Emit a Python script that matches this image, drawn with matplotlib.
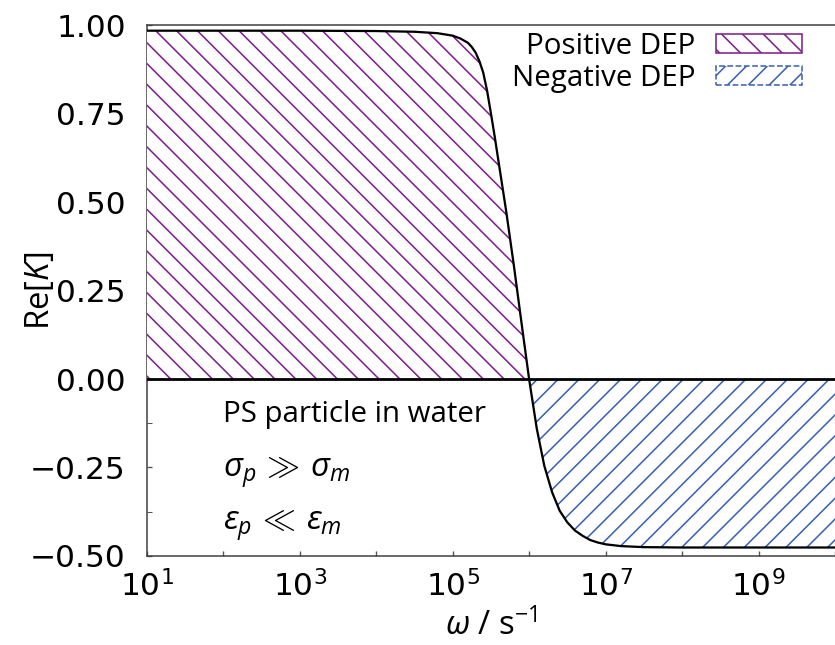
import matplotlib
matplotlib.use('Agg')
import matplotlib.pyplot as plt
from matplotlib.patches import Patch
import numpy as np

# Re[K]
omega = [1e1, 1e2, 1e3, 1e4, 3.16e4, 6.3e4, 1e5, 1.26e5, 1.58e5, 1.78e5, 2e5, 2.24e5,
         2.51e5, 2.82e5, 3.16e5, 3.55e5, 3.98e5, 5.01e5, 6.31e5, 7.94e5, 1e6, 1.26e6,
         1.58e6, 2e6, 2.51e6, 3.16e6, 3.98e6, 5.01e6, 6.31e6, 7.94e6, 1e7, 1.58e7, 3.16e7,
         1e8, 1e9, 1e10]
re_k = [0.984, 0.984, 0.984, 0.983, 0.981, 0.977, 0.970, 0.962, 0.950, 0.938, 0.922, 0.898,
        0.866, 0.815, 0.752, 0.685, 0.615, 0.475, 0.322, 0.160, 0.0, -0.140,
        -0.245, -0.320, -0.372, -0.405, -0.428, -0.443, -0.455, -0.462, -0.467, -0.472, -0.475,
        -0.476, -0.476, -0.476]

xticks = [1e1, 1e2, 1e3, 1e4, 1e5, 1e6, 1e7, 1e8, 1e9, 1e10]
xtick_labels = [r'$10^{1}$', '', r'$10^{3}$', '', r'$10^{5}$', '', r'$10^{7}$', '', r'$10^{9}$', '']
yticks = [-0.5, -0.25, 0.0, 0.25, 0.5, 0.75, 1.0]
ytick_labels = ['\u22120.50', '\u22120.25', '0.00', '0.25', '0.50', '0.75', '1.00']
yminor = [-0.375, -0.125, 0.125, 0.375, 0.625, 0.875]

purple = '#7e1f8e'
blue = '#3a62b2'

plt.rcParams['hatch.linewidth'] = 0.9
plt.rcParams['mathtext.fontset'] = 'custom'
plt.rcParams['mathtext.rm'] = 'Open Sans'
plt.rcParams['mathtext.it'] = 'Open Sans:italic'
plt.rcParams['mathtext.bf'] = 'Open Sans:bold'

fig = plt.figure(figsize=(6.68, 5.16), dpi=125)
ax = fig.add_axes([0.1757, 0.138, 0.8243, 0.8232])

x = np.array(omega)
y = np.array(re_k)
ax.fill_between(x, y, 0, where=y >= 0, interpolate=True, facecolor='white',
                edgecolor=purple, hatch='\\\\', linewidth=0, zorder=3)
ax.fill_between(x, y, 0, where=y <= 0, interpolate=True, facecolor='none',
                edgecolor=blue, hatch='//', linewidth=0, zorder=3)
ax.axhline(0, color='black', lw=1.6, zorder=4)
ax.plot(x, y, color='black', lw=1.3, zorder=5)

ax.set_xscale('log')
ax.set_xlim(1e1, 1e10)
ax.set_ylim(-0.5, 1.0)
ax.set_xticks(xticks)
ax.set_xticklabels(xtick_labels, math_fontfamily='dejavusans')
ax.xaxis.set_minor_locator(matplotlib.ticker.NullLocator())
ax.set_yticks(yticks)
ax.set_yticklabels(ytick_labels)
ax.set_yticks(yminor, minor=True)
ax.tick_params(axis='both', which='both', direction='in', length=3, color='#555555', labelsize=18)
ax.tick_params(axis='y', pad=12)
ax.tick_params(axis='x', pad=8)

for s in ['left', 'bottom', 'top']:
    ax.spines[s].set_color('#444444')
    ax.spines[s].set_linewidth(0.9)
ax.spines['right'].set_visible(False)

ax.set_xlabel(r'$\omega$ / s$^{-1}$', fontsize=19, family='Open Sans')
ax.xaxis.set_label_coords(0.5, -0.1)
ax.set_ylabel(r'Re$[K]$', fontsize=19, family='Open Sans')
ax.yaxis.set_label_coords(-0.13, 0.5)

fs = 17
fig.text(223/835, 1 - 422/645, 'PS particle in water', fontsize=fs, family='Open Sans', va='baseline')
fig.text(223/835, 1 - 477/645, r'$\sigma_p \,\gg\, \sigma_m$', fontsize=19, family='Open Sans',
         math_fontfamily='custom', va='baseline')
fig.text(223/835, 1 - 530/645, r'$\varepsilon_p \,\ll\, \varepsilon_m$', fontsize=19, family='Open Sans',
         math_fontfamily='custom', va='baseline')

handles = [Patch(facecolor='white', edgecolor=purple, hatch='\\\\', lw=0.9, label='Positive DEP'),
           Patch(facecolor='white', edgecolor=blue, hatch='//', lw=0.9, ls='--', label='Negative DEP')]
leg = ax.legend(handles=handles, loc='upper right', bbox_to_anchor=(802/835, 1 - 32/645),
                bbox_transform=fig.transFigure, frameon=False, markerfirst=False,
                handlelength=2.9, handleheight=0.6, handletextpad=0.7, labelspacing=0.1,
                borderpad=0, borderaxespad=0, prop={'family': 'Open Sans', 'size': fs})
leg.set_zorder(6)

fig.savefig('out.png', dpi=125)
